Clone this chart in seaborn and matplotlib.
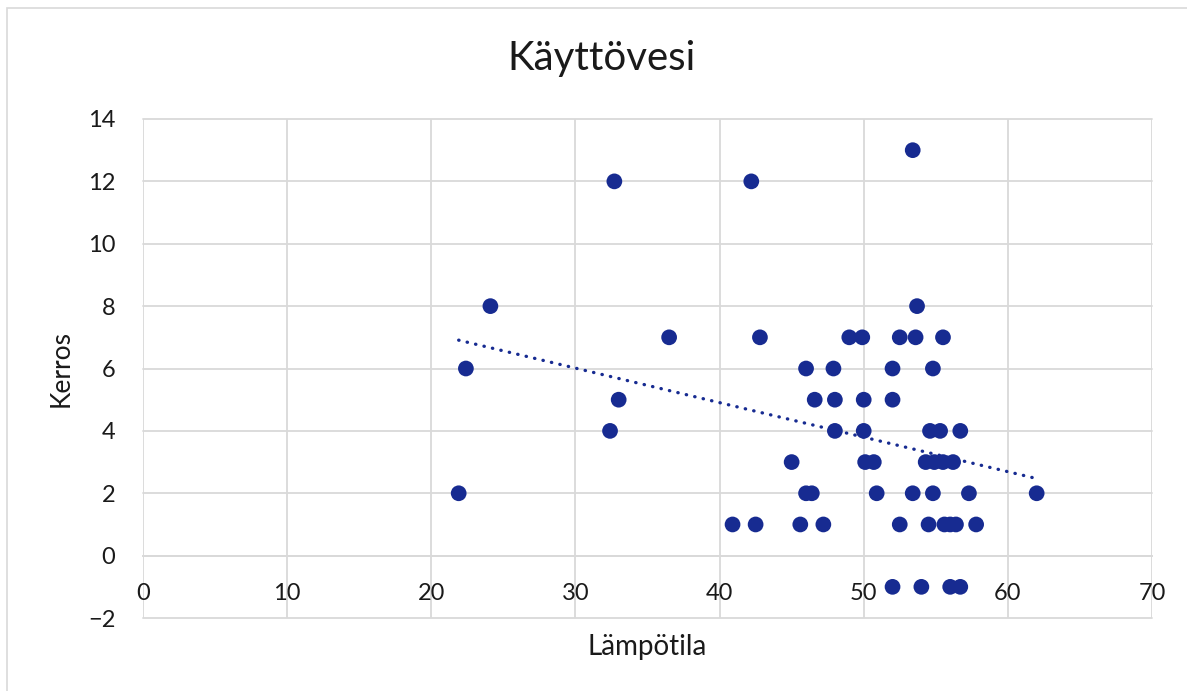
import numpy as np
import pandas as pd
import matplotlib
matplotlib.use('Agg')
import matplotlib.pyplot as plt
import seaborn as sns
from matplotlib.patches import Rectangle

# Values
lampotila = [21.9, 22.4, 24.1, 32.4, 32.7, 33.0, 36.5, 40.9, 42.2, 42.5,
             42.8, 45.0, 45.6, 46.0, 46.0, 46.4, 46.6, 47.2, 47.9, 48.0,
             48.0, 49.0, 49.9, 50.0, 50.0, 50.1, 50.7, 50.9, 52.0, 52.0,
             52.0, 52.5, 52.5, 53.4, 53.4, 53.6, 53.7, 54.0, 54.3, 54.5,
             54.6, 54.8, 54.8, 54.9, 55.3, 55.5, 55.5, 55.6, 56.0, 56.0,
             56.2, 56.4, 56.7, 56.7, 57.3, 57.8, 62.0]
kerros = [2, 6, 8, 4, 12, 5, 7, 1, 12, 1,
          7, 3, 1, 6, 2, 2, 5, 1, 6, 5,
          4, 7, 7, 5, 4, 3, 3, 2, 6, 5,
          -1, 7, 1, 13, 2, 7, 8, -1, 3, 1,
          4, 6, 2, 3, 4, 7, 3, 1, 1, -1,
          3, 1, 4, -1, 2, 1, 2]
x_ticks = [0, 10, 20, 30, 40, 50, 60, 70]
y_ticks = [-2, 0, 2, 4, 6, 8, 10, 12, 14]

df = pd.DataFrame({'Lämpötila': lampotila, 'Kerros': kerros})

sns.set_theme(style='white')
plt.rcParams['font.family'] = ['Lato', 'DejaVu Sans']

dot_color = '#172B91'
grid_color = '#D9D9D9'
text_color = '#1A1A1A'

fig = plt.figure(figsize=(11.87, 6.91), dpi=100)
ax = fig.add_axes([0.1205, 0.1056, 0.8500, 0.7222])

# chart border
fig.patches.append(Rectangle((0.0059, -0.1), 1.2, 1.0884, transform=fig.transFigure,
                             fill=False, edgecolor=grid_color, linewidth=1.2))

# dotted linear trendline over the data range
sns.regplot(data=df, x='Lämpötila', y='Kerros', scatter=False, ci=None, truncate=True,
            ax=ax, color=dot_color,
            line_kws=dict(linestyle=(0, (0.1, 2.5)), linewidth=2.4, dash_capstyle='round'))
sns.scatterplot(data=df, x='Lämpötila', y='Kerros', ax=ax, color=dot_color,
                s=128, edgecolor='none', zorder=3)

ax.set_xlim(0, 70)
ax.set_ylim(-2, 14)
ax.set_xticks(x_ticks)
ax.set_yticks(y_ticks)
ax.set_xticklabels([str(t) for t in x_ticks])
ax.set_yticklabels([str(t).replace('-', '\u2212') for t in y_ticks])

ax.grid(True, color=grid_color, linewidth=1.3)
ax.set_axisbelow(True)
for line in ax.get_xgridlines() + ax.get_ygridlines():
    line.set_clip_on(False)
for side in ['top', 'right', 'left']:
    ax.spines[side].set_visible(False)
# horizontal axis crosses at y=0, labels sit below it
ax.spines['bottom'].set_position(('data', 0))
ax.spines['bottom'].set_color(grid_color)
ax.spines['bottom'].set_linewidth(1.3)

ax.tick_params(axis='both', length=0, labelsize=17, colors=text_color)
ax.tick_params(axis='x', pad=20)
ax.tick_params(axis='y', pad=20)

ax.set_xlabel('Lämpötila', fontsize=20, color=text_color)
ax.set_ylabel('Kerros', fontsize=19, color=text_color)
ax.xaxis.set_label_coords(0.5, -0.032)
ax.yaxis.set_label_coords(-0.069, 0.5)

fig.text(0.507, 0.916, 'Käyttövesi', ha='center', va='center', fontsize=29, color=text_color)

fig.savefig('out.png', dpi=100, facecolor='white')
